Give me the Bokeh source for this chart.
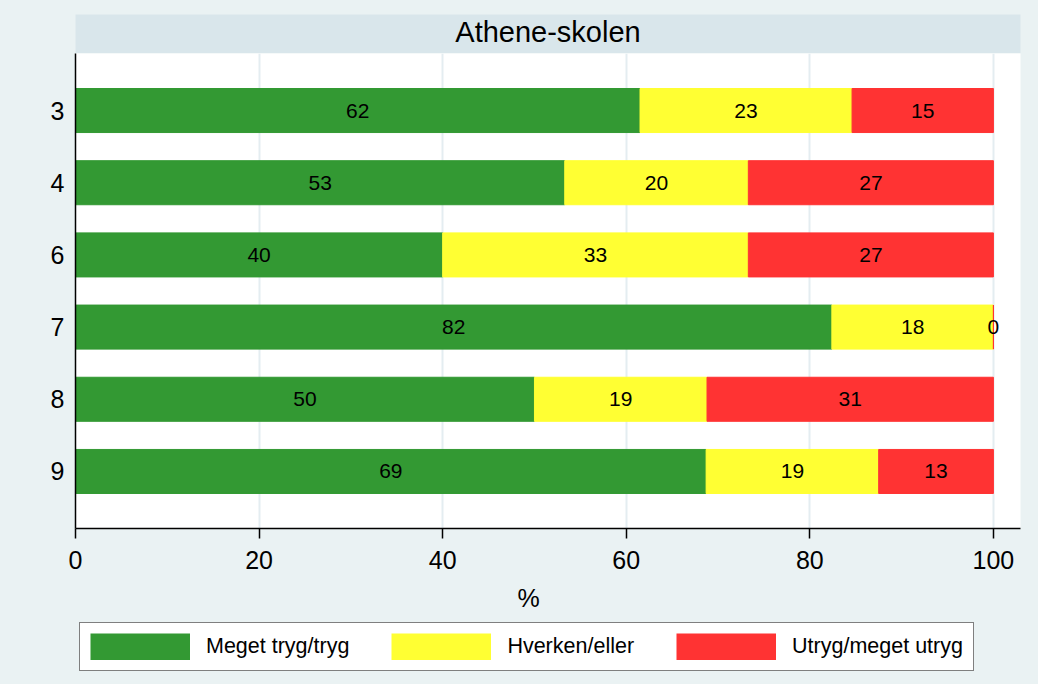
import numpy as np
from bokeh.plotting import figure
from bokeh.models import (ColumnDataSource, Range1d, Legend, LegendItem, Label,
                          FixedTicker)
from bokeh.layouts import column
from bokeh.embed import file_html
from bokeh.resources import INLINE
from bokeh.core.properties import value

# ---------------- data ----------------
school = "Athene-skolen"
grades = ["3", "4", "6", "7", "8", "9"]
series_names = ["Meget tryg/tryg", "Hverken/eller", "Utryg/meget utryg"]
safe = [61.5, 53.3, 40.0, 82.4, 50.0, 68.7]
neither = [23.1, 20.0, 33.3, 17.6, 18.8, 18.8]
unsafe = [15.4, 26.7, 26.7, 0.0, 31.2, 12.5]
colors = ["#339933", "#FFFF33", "#FF3333"]
x_ticks = [0, 20, 40, 60, 80, 100]
x_label = "%"

FONT = "Liberation Sans"
BG = "#EAF2F3"
STRIP = "#D9E6EB"
GRID = "#E4EDF1"
W = 1038
BL, BR = 75, 18          # left / right borders -> frame width
FW = W - BL - BR

n = len(grades)
ypos = list(range(n))
keys = ["safe", "neither", "unsafe"]
src = ColumnDataSource(dict(y=ypos, safe=safe, neither=neither, unsafe=unsafe))

# ---------------- title strip ----------------
strip = figure(width=W, height=53, x_range=Range1d(0, 1), y_range=Range1d(0, 1),
               toolbar_location=None, output_backend="svg",
               min_border_left=BL, min_border_right=BR, min_border_top=14,
               min_border_bottom=0, background_fill_color=STRIP,
               border_fill_color=BG, outline_line_color=None,
               x_axis_location=None, y_axis_location=None)
strip.grid.visible = False
strip.add_layout(Label(x=0.5, y=0.5, y_offset=2, text=school, text_align="center",
                       text_baseline="middle", text_font=FONT,
                       text_font_size="29px", text_color="black"))

# ---------------- main plot ----------------
p = figure(width=W, height=527, x_range=Range1d(0, 102.95),
           y_range=Range1d(n - 1 + 0.79, -0.79),
           toolbar_location=None, output_backend="svg",
           min_border_left=BL, min_border_right=BR, min_border_top=0,
           min_border_bottom=52, background_fill_color="white",
           border_fill_color=BG, outline_line_color=None)

rends = p.hbar_stack(keys, y="y", height=0.61, color=colors, source=src)

# value labels centred in each segment
vals = np.array([safe, neither, unsafe])
cum = np.cumsum(vals, axis=0)
mids = cum - vals / 2
lab_x, lab_y, lab_t = [], [], []
for s in range(3):
    for i in range(n):
        lab_x.append(mids[s, i])
        lab_y.append(ypos[i])
        lab_t.append(str(int(vals[s, i] + 0.5)))
p.text(x="x", y="y", text="t", source=ColumnDataSource(dict(x=lab_x, y=lab_y, t=lab_t)),
       text_align="center", text_baseline="middle", text_font=value(FONT),
       text_font_size="21px", text_color="black")

# axes
p.xaxis.ticker = FixedTicker(ticks=x_ticks)
p.xaxis.major_tick_out = 10
p.xaxis.major_tick_in = 0
p.xaxis.minor_tick_line_color = None
p.xaxis.major_label_standoff = 12
p.xaxis.major_label_text_font = FONT
p.xaxis.major_label_text_font_size = "25px"
p.xaxis.major_label_text_color = "black"
p.xaxis.axis_line_color = "black"
p.xaxis.axis_line_width = 1.5
p.xaxis.major_tick_line_width = 1.5

p.yaxis.ticker = FixedTicker(ticks=ypos)
p.yaxis.major_label_overrides = {i: g for i, g in zip(ypos, grades)}
p.yaxis.major_tick_out = 0
p.yaxis.major_tick_in = 0
p.yaxis.minor_tick_line_color = None
p.yaxis.major_label_standoff = 11
p.yaxis.major_label_text_font = FONT
p.yaxis.major_label_text_font_size = "25px"
p.yaxis.major_label_text_color = "black"
p.yaxis.axis_line_color = "black"
p.yaxis.axis_line_width = 1.5

p.xgrid.ticker = FixedTicker(ticks=x_ticks)
p.xgrid.grid_line_color = GRID
p.xgrid.grid_line_width = 2
p.ygrid.grid_line_color = None

# ---------------- footer: axis title + legend ----------------
FH = 104
foot = figure(width=W, height=FH, x_range=Range1d(0, FW), y_range=Range1d(0, FH),
              toolbar_location=None, output_backend="svg",
              min_border_left=BL, min_border_right=BR, min_border_top=0,
              min_border_bottom=0, background_fill_color=BG,
              border_fill_color=BG, outline_line_color=None,
              x_axis_location=None, y_axis_location=None)
foot.grid.visible = False
foot.add_layout(Label(x=453, y=FH - 17, text=x_label, text_align="center",
                      text_baseline="middle", text_font=FONT,
                      text_font_size="25px", text_color="black"))

# proxy renderers (single point, nothing visible) used only for the legend
# swatches: a thick line gives a full-size solid block in the legend
swatches = [foot.line(x=[0], y=[0], line_width=27, line_color=c, line_cap="butt")
            for c in colors]

legend = Legend(items=[LegendItem(label=nm, renderers=[r]) for nm, r in zip(series_names, swatches)],
                orientation="horizontal", location=(4, FH - 91), margin=0,
                padding=10, spacing=42, glyph_width=100, glyph_height=27,
                label_standoff=16, label_height=27,
                label_text_font=FONT, label_text_font_size="21.5px",
                label_text_color="black", border_line_color="black",
                border_line_width=1.5, background_fill_color="white",
                background_fill_alpha=1.0)
foot.add_layout(legend)

layout = column(strip, p, foot, spacing=0, styles={"background-color": BG})
open("out.html", "w").write(file_html(layout, INLINE))
